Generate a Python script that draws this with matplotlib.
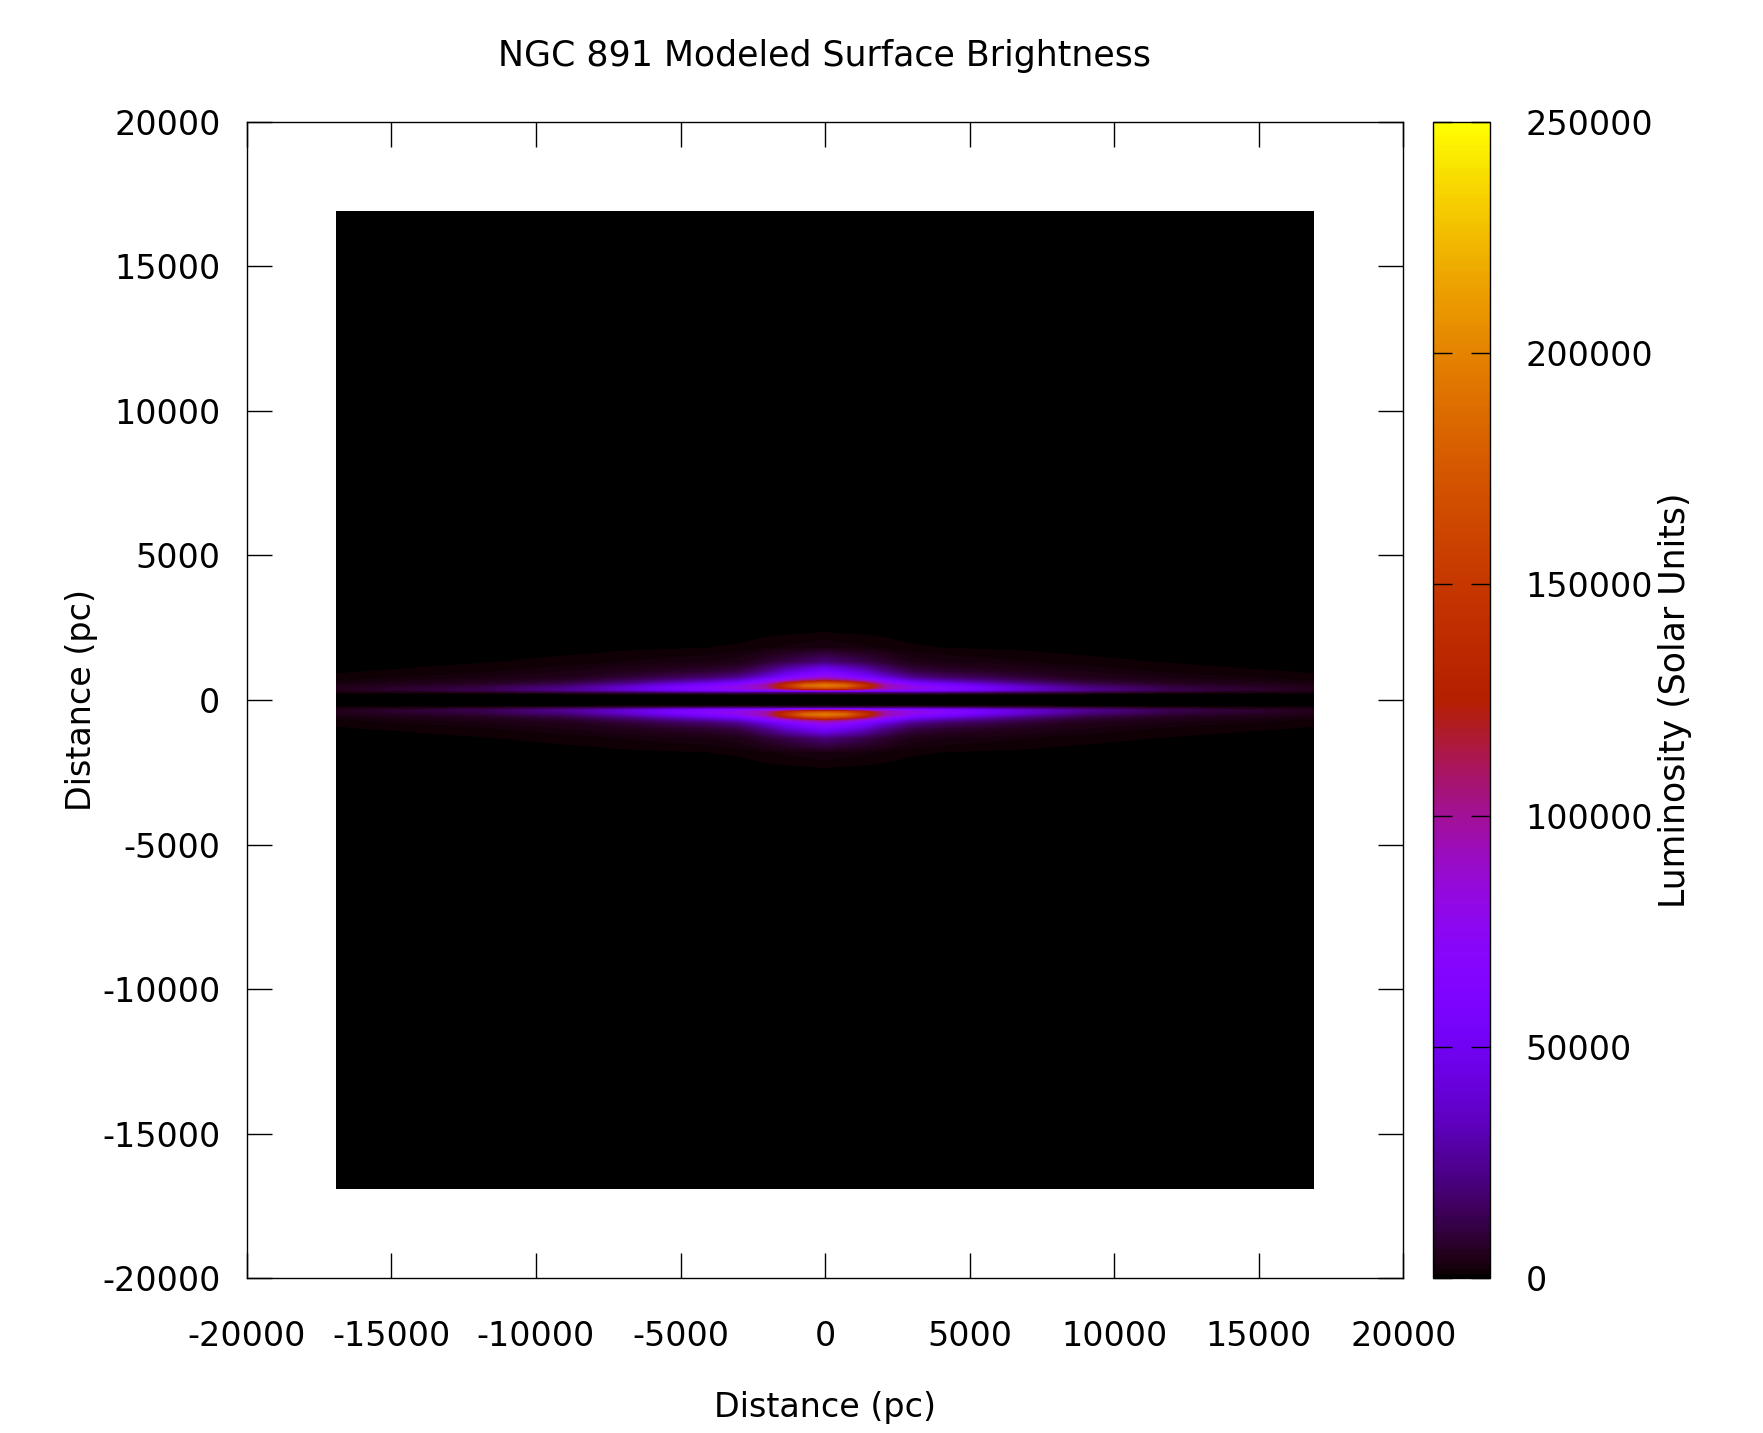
import numpy as np
import matplotlib
matplotlib.use('Agg')
import matplotlib.pyplot as plt

plt.rcParams['font.family'] = 'DejaVu Sans'
plt.rcParams['axes.unicode_minus'] = False

# sample nodes (pc), one quadrant; the map is mirrored in R and z
r_nodes = [0, 700, 1400, 2100, 3000, 4000, 5500, 7000, 9000, 12000, 16900]
z_nodes = [0, 200, 280, 350, 420, 500, 580, 680, 800, 1000, 1300, 1800, 2600, 16900]

# luminosity, one vertical profile per radius node
lum_r0 = [0, 0, 20000, 100000, 170000, 195000, 170000, 110000, 80000, 55000, 20000, 3000, 0, 0]
lum_r700 = [0, 0, 20000, 95000, 160000, 185000, 155000, 100000, 70000, 45000, 16000, 2500, 0, 0]
lum_r1400 = [0, 0, 20000, 85000, 130000, 140000, 120000, 82000, 56000, 34000, 12000, 2200, 0, 0]
lum_r2100 = [0, 0, 20000, 75000, 95000, 95000, 82000, 60000, 38000, 21000, 8000, 1800, 0, 0]
lum_r3000 = [0, 0, 22000, 70000, 80000, 73000, 57000, 37000, 22000, 11000, 4000, 1200, 0, 0]
lum_r4000 = [0, 0, 20000, 62000, 70000, 60000, 45000, 28000, 16000, 8000, 3000, 1000, 0, 0]
lum_r5500 = [0, 0, 18000, 50000, 55000, 45000, 32000, 20000, 12000, 6000, 2500, 800, 0, 0]
lum_r7000 = [0, 0, 14000, 36000, 38000, 30000, 21000, 13000, 8000, 4500, 2000, 700, 0, 0]
lum_r9000 = [0, 0, 10000, 24000, 22000, 16000, 11000, 7000, 4500, 2800, 1400, 500, 0, 0]
lum_r12000 = [0, 0, 5000, 12000, 11000, 8000, 5500, 3800, 2600, 1600, 900, 300, 0, 0]
lum_r16900 = [0, 0, 2000, 5000, 4500, 3500, 2500, 1800, 1200, 800, 500, 200, 0, 0]

lum_table = np.array([lum_r0, lum_r700, lum_r1400, lum_r2100, lum_r3000, lum_r4000,
                      lum_r5500, lum_r7000, lum_r9000, lum_r12000, lum_r16900], dtype=float)

# mirror the quadrant into the full plane
r_full = np.concatenate([-np.array(r_nodes[:0:-1]), r_nodes])
z_full = np.concatenate([-np.array(z_nodes[:0:-1]), z_nodes])
quad = lum_table.T  # rows = z, cols = R
half = np.concatenate([quad[:, :0:-1], quad], axis=1)
lum_full = np.concatenate([half[:0:-1, :], half], axis=0)

fig = plt.figure(figsize=(17.63, 14.33), dpi=100)
ax = fig.add_axes([0.140, 0.108, 0.656, 0.807])
cax = fig.add_axes([0.813, 0.108, 0.032, 0.807])

cs = ax.contourf(r_full, z_full, lum_full, levels=np.linspace(0, 250000, 501),
                 cmap='gnuplot', vmin=0, vmax=250000, antialiased=False)

ax.set_xlim(-20000, 20000)
ax.set_ylim(-20000, 20000)
ax.set_xticks(np.arange(-20000, 20001, 5000))
ax.set_yticks(np.arange(-20000, 20001, 5000))
ax.tick_params(direction='in', length=18, width=1.0, top=True, right=True,
               labelsize=24, pad=19)
ax.tick_params(axis='x', pad=30)
for s in ax.spines.values():
    s.set_linewidth(1.0)

fig.text(0.4675, 1 - 56 / 1433, 'NGC 891 Modeled Surface Brightness',
         ha='center', va='center', fontsize=25)
ax.text(0.5, -0.112, 'Distance (pc)', transform=ax.transAxes,
        ha='center', va='center', fontsize=24)
fig.text(0.046, 0.5115, 'Distance (pc)', rotation=90,
         ha='center', va='center', fontsize=24)

cb = fig.colorbar(cs, cax=cax, ticks=np.arange(0, 250001, 50000))
cb.outline.set_linewidth(1.0)
cax.tick_params(direction='in', length=14, width=1.0, left=True, right=True,
                labelsize=24, pad=26)
fig.text(0.950, 0.5115, 'Luminosity (Solar Units)', rotation=90,
         ha='center', va='center', fontsize=25)

fig.savefig('out.png', dpi=100)
